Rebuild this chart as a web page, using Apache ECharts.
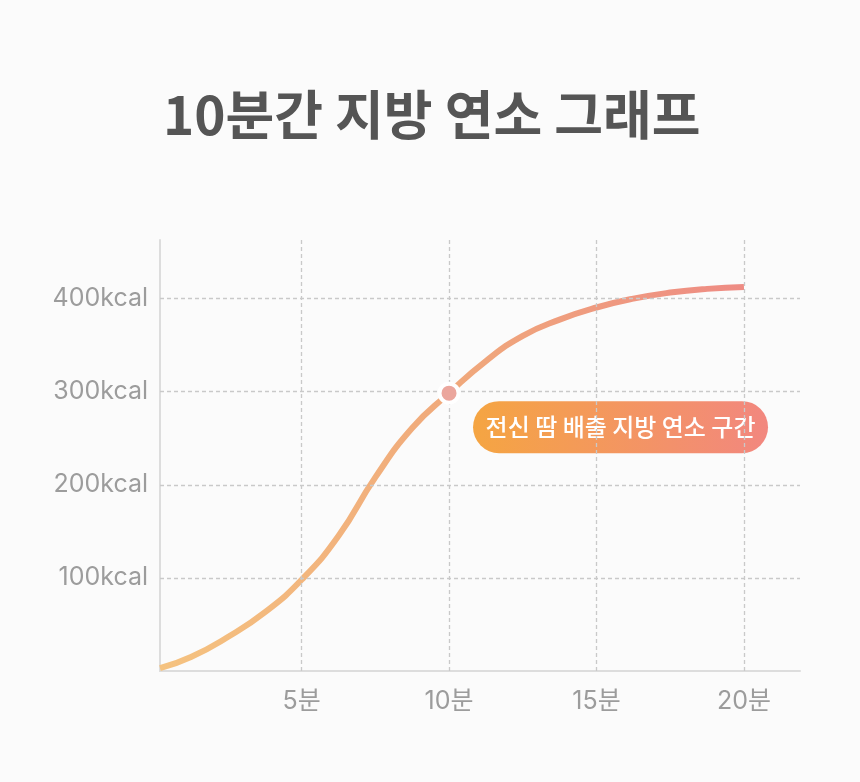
<!DOCTYPE html>
<html><head><meta charset="utf-8">
<script src="https://cdn.jsdelivr.net/npm/echarts@6/dist/echarts.min.js"></script>
<style>html,body{margin:0;padding:0;background:#fbfbfb}#c{width:860px;height:782px}</style>
</head><body><div id="c"></div>
<script>
const titleText = '10분간 지방 연소 그래프';
const minutes = [0.2, 1.25, 2.5, 3.75, 5, 6.25, 7.5, 8.75, 10, 11.25, 12.5, 13.75, 15, 16.25, 17.5, 18.75, 20];
const kcal    = [3, 15, 36.5, 63, 98, 145, 208, 261, 298.5, 333, 360, 377.5, 390.5, 400, 406.5, 410.5, 412.5];
const xTicks = [5, 10, 15, 20];
const yTicks = [100, 200, 300, 400];
const xUnit = '분';
const yUnit = 'kcal';
const highlight = [10, 298.5];
const highlightLabel = '전신 땀 배출 지방 연소 구간';

const chart = echarts.init(document.getElementById('c'), null, {renderer: 'canvas'});
const labelFont = "Inter, 'Noto Sans CJK KR', sans-serif";
const gridLine = {color: '#c9c9c9', width: 1.3, type: [4, 3]};

const option = {
  backgroundColor: '#fbfbfb',
  animation: false,
  title: {
    text: titleText,
    left: 158, top: 83,
    textStyle: {fontFamily: "'Noto Sans CJK KR', sans-serif", fontSize: 53, fontWeight: 'bold', color: '#555555'}
  },
  grid: {left: 160, right: 60, top: 240, bottom: 111, containLabel: false, outerBoundsMode: 'none'},
  xAxis: {
    type: 'value', min: 0.2, max: 21.9,
    axisLine: {show: true, lineStyle: {color: '#dddddd', width: 2}},
    axisTick: {show: false},
    splitLine: {show: false},
    axisLabel: {customValues: xTicks, formatter: v => v + xUnit, fontFamily: labelFont, fontSize: 25, color: '#9c9c9c', margin: 18}
  },
  yAxis: {
    type: 'value', min: 0, max: 463,
    axisLine: {show: true, lineStyle: {color: '#dddddd', width: 2}},
    axisTick: {show: false},
    splitLine: {show: false},
    axisLabel: {customValues: yTicks, formatter: v => v + yUnit, fontFamily: labelFont, fontSize: 25, color: '#9c9c9c', margin: 12}
  },
  series: [
    {
      type: 'line', data: [], z: 1, silent: true,
      markLine: {
        silent: true, symbol: 'none', label: {show: false}, animation: false,
        lineStyle: gridLine,
        emphasis: {disabled: true},
        data: xTicks.map(v => ({xAxis: v})).concat(yTicks.map(v => ({yAxis: v})))
      }
    },
    {
      type: 'line', z: 3, smooth: 0.5, symbol: 'none', silent: true,
      data: minutes.map((m, i) => [m, kcal[i]]),
      lineStyle: {
        width: 6,
        color: new echarts.graphic.LinearGradient(0, 0, 1, 0, [
          {offset: 0, color: '#F5C380'},
          {offset: 0.5, color: '#F0A97B'},
          {offset: 1, color: '#EE8B84'}
        ])
      }
    },
    {
      type: 'scatter', z: 5, silent: true,
      data: [highlight],
      symbolSize: 19,
      itemStyle: {color: '#EBA69D', opacity: 1, borderColor: '#ffffff', borderWidth: 4}
    }
  ]
};
chart.setOption(option);

const p = chart.convertToPixel({gridIndex: 0}, highlight);
chart.setOption({
  graphic: [{
    type: 'group', x: p[0] + 24, y: p[1] + 8, z: 10,
    children: [
      {type: 'rect', shape: {x: 0, y: 0, width: 295, height: 52, r: 26},
       style: {fill: new echarts.graphic.LinearGradient(0, 0, 1, 0, [
         {offset: 0, color: '#F5A542'}, {offset: 1, color: '#F2877F'}])}},
      {type: 'text', x: 147.5, y: 26,
       style: {text: highlightLabel, fill: '#ffffff', fontSize: 24, fontWeight: 500,
               fontFamily: "'Noto Sans CJK KR', sans-serif", align: 'center', verticalAlign: 'middle'}}
    ]
  }]
});
</script></body></html>
